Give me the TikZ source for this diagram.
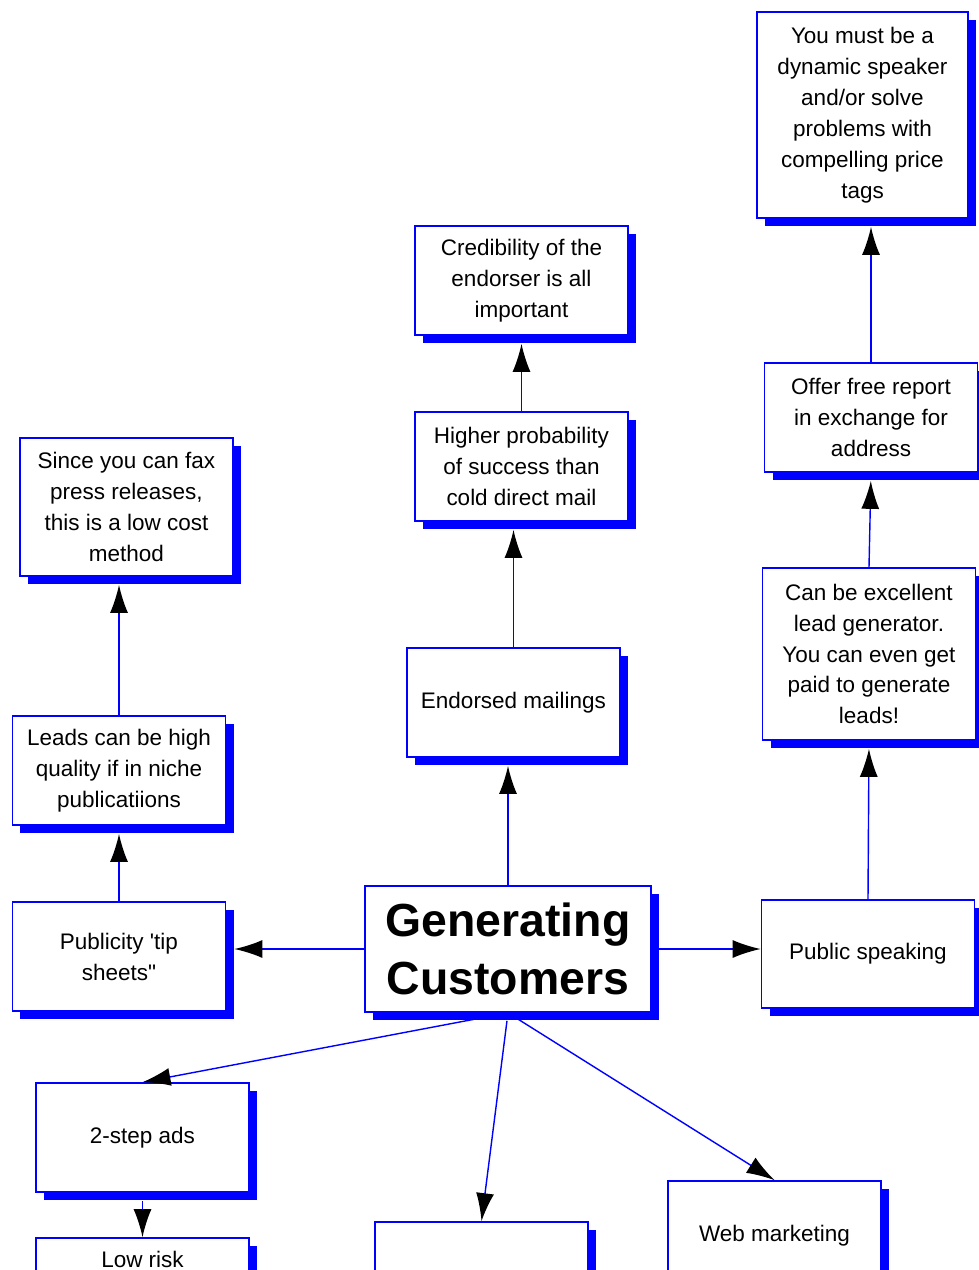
\documentclass[tikz,border=0pt]{standalone}
\usepackage{fontspec}
\setmainfont{Liberation Sans}
\usepackage{tikz}
\usetikzlibrary{arrows.meta,shadows,calc}

\begin{document}
\begin{tikzpicture}
    [   idea/.style=
        {   draw = blue
        ,   line width = 1.2pt
        ,   fill = white
        ,   align = center
        ,   minimum width = 53.25mm
        ,   minimum height = 27.25mm
        ,   inner sep = 1mm
        ,   node font = \fontsize{16}{22}\selectfont
        ,   drop shadow = {shadow xshift=2mm, shadow yshift=-2mm, fill=blue, opacity=1}
        }
    ,   hub/.style=
        {   idea
        ,   minimum width = 71.5mm
        ,   minimum height = 31.5mm
        ,   node font = \fontsize{33}{41}\selectfont\bfseries
        }
    ,   link/.style = {draw=blue, line width=1pt, -{Latex[length=7mm,width=4.5mm,color=black]}}
    ,   toshadow/.style = {shorten >=2mm}
    ,   fromshadow/.style = {shorten <=2mm}
    ,   x = 0.25mm
    ,   y = -0.25mm
    ]
    \useasboundingbox (0,0) rectangle (979,1270);
    \clip (0,0) rectangle (979,1270);
    % centre of the map
    \node[hub] (central) at (508,949) {Generating\\Customers};
    % right branch
    \node[idea, minimum height=27mm] (public) at (868,954) {Public speaking};
    \node[idea, minimum height=43mm] (canbe) at (869,654)
        {Can be excellent\\lead generator.\\You can even get\\paid to generate\\leads!};
    \node[idea] (offer) at (871,417.5) {Offer free report\\in exchange for\\address};
    \node[idea, minimum width=52.75mm, minimum height=51.5mm] (speaker) at (862.5,115)
        {You must be a\\dynamic speaker\\and/or solve\\problems with\\compelling price\\tags};
    % middle branch
    \node[idea] (endorsed) at (513.5,702.5) {Endorsed mailings};
    \node[idea] (higher) at (521.5,466.5) {Higher probability\\of success than\\cold direct mail};
    \node[idea] (credible) at (521.5,280.5) {Credibility of the\\endorser is all\\important};
    % left branch
    \node[idea] (publicity) at (119,956.5) {Publicity \textquotesingle tip\\sheets\textquotedbl};
    \node[idea] (leads) at (119,770.5) {Leads can be high\\quality if in niche\\publicatiions};
    \node[idea, minimum height=34.5mm] (fax) at (126.5,507)
        {Since you can fax\\press releases,\\this is a low cost\\method};
    % lower branches
    \node[idea] (twostep) at (142.5,1137.5) {2-step ads};
    \node[idea, minimum height=10.5mm] (lowrisk) at (142.5,1259) {Low risk};
    \node[idea] (lower) at (481.5,1276.5) {};
    \node[idea] (web) at (774.5,1235.5) {Web marketing};

    \draw[link, toshadow] (central.north) -- (central.north |- endorsed.south);
    \draw[link, toshadow] (endorsed.north) -- (endorsed.north |- higher.south);
    \draw[link, toshadow] (higher.north) -- (credible.south);
    \draw[link] (central.east) -- (central.east -| public.west);
    \draw[link, toshadow] (public.north) -- (canbe.south);
    \draw[link, toshadow] (canbe.north) -- (offer.south);
    \draw[link, toshadow] (offer.north) -- (offer.north |- speaker.south);
    \draw[link, toshadow] (central.west) -- (central.west -| publicity.east);
    \draw[link, toshadow] (publicity.north) -- (leads.south);
    \draw[link, toshadow] (leads.north) -- (leads.north |- fax.south);
    \draw[link, fromshadow] (central.south) -- (twostep.north);
    \draw[link, fromshadow] (central.south) -- (lower.north);
    \draw[link, fromshadow] (central.south) -- (web.north);
    \draw[link, fromshadow] (twostep.south) -- (lowrisk.north);
\end{tikzpicture}
\end{document}
